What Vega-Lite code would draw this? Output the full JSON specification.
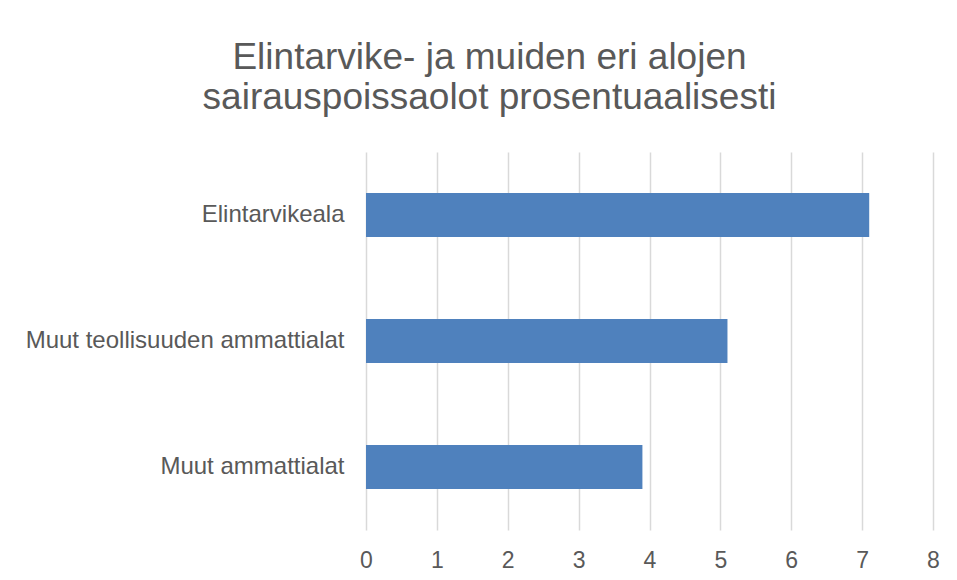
{
  "$schema": "https://vega.github.io/schema/vega-lite/v6.json",
  "width": 567,
  "height": 378,
  "autosize": {"type": "none"},
  "padding": {"left": 366, "top": 152, "right": 24, "bottom": 50},
  "background": "#ffffff",
  "title": {
    "text": ["Elintarvike- ja muiden eri alojen", "sairauspoissaolot prosentuaalisesti"],
    "font": "Liberation Sans",
    "fontSize": 37,
    "fontWeight": "normal",
    "color": "#595959",
    "lineHeight": 40,
    "anchor": "middle",
    "frame": "group",
    "dx": -160,
    "offset": 35
  },
  "data": {
    "values": [
      {"ala": "Elintarvikeala", "arvo": 7.1},
      {"ala": "Muut teollisuuden ammattialat", "arvo": 5.1},
      {"ala": "Muut ammattialat", "arvo": 3.9}
    ]
  },
  "mark": {"type": "bar", "color": "#4F81BD"},
  "encoding": {
    "y": {
      "field": "ala",
      "type": "nominal",
      "sort": null,
      "scale": {"paddingInner": 0.65, "paddingOuter": 0.325},
      "axis": {
        "title": null,
        "ticks": false,
        "domain": false,
        "labelFont": "Liberation Sans",
        "labelFontSize": 24,
        "labelColor": "#595959",
        "labelPadding": 22,
        "labelLimit": 0
      }
    },
    "x": {
      "field": "arvo",
      "type": "quantitative",
      "scale": {"domain": [0, 8], "nice": false},
      "axis": {
        "title": null,
        "values": [0, 1, 2, 3, 4, 5, 6, 7, 8],
        "ticks": false,
        "domain": false,
        "grid": true,
        "gridColor": "#D9D9D9",
        "gridWidth": 1.5,
        "labelFlush": false,
        "labelFont": "Liberation Sans",
        "labelFontSize": 23,
        "labelColor": "#595959",
        "labelPadding": 19
      }
    }
  },
  "config": {"view": {"stroke": null}}
}
